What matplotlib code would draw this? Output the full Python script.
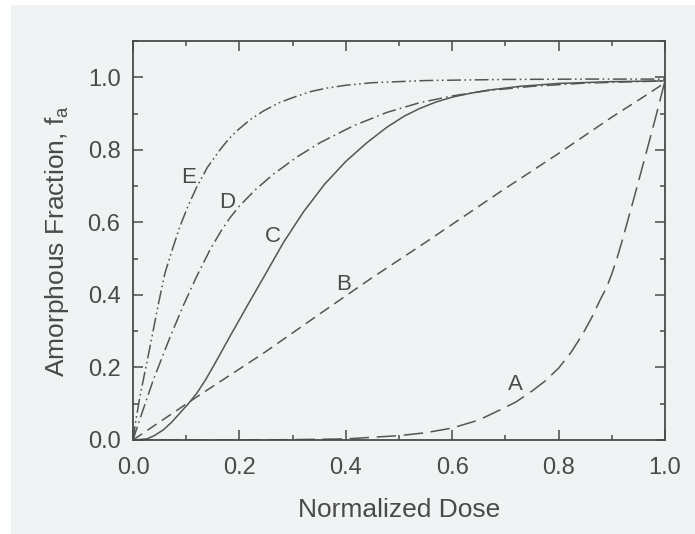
import matplotlib
matplotlib.use("Agg")
import matplotlib.pyplot as plt
from matplotlib.patches import Rectangle
from matplotlib.ticker import MultipleLocator

# values
dose_a = [0.0, 0.1, 0.2, 0.3, 0.4, 0.5, 0.55, 0.6, 0.65, 0.69, 0.72, 0.75, 0.775,
          0.8, 0.825, 0.846, 0.862, 0.878, 0.89, 0.9, 0.91, 0.92, 0.94, 0.96,
          0.98, 1.0]
frac_a = [0.0, 0.0, 0.0, 0.001, 0.003, 0.012, 0.02, 0.033, 0.055, 0.083, 0.105,
          0.135, 0.163, 0.198, 0.245, 0.294, 0.337, 0.386, 0.42, 0.458, 0.502,
          0.552, 0.658, 0.766, 0.876, 0.99]

dose_b = [0.0, 0.12, 0.245, 0.37, 0.445, 0.55, 0.69, 0.8, 0.9, 0.966, 1.0]
frac_b = [0.0, 0.119, 0.239, 0.367, 0.443, 0.545, 0.684, 0.79, 0.89, 0.952, 0.985]

dose_c = [0.0, 0.026, 0.04, 0.057, 0.072, 0.088, 0.104, 0.12, 0.136, 0.151, 0.182,
          0.214, 0.25, 0.283, 0.32, 0.36, 0.4, 0.44, 0.477, 0.51, 0.539, 0.57,
          0.602, 0.635, 0.665, 0.727, 0.8, 0.9, 1.0]
frac_c = [0.0, 0.003, 0.012, 0.028, 0.048, 0.074, 0.1, 0.129, 0.165, 0.203, 0.285,
          0.368, 0.46, 0.545, 0.628, 0.705, 0.768, 0.82, 0.862, 0.893, 0.914, 0.932,
          0.946, 0.956, 0.964, 0.975, 0.983, 0.988, 0.99]

dose_d = [0.0, 0.01, 0.038, 0.07, 0.095, 0.12, 0.145, 0.165, 0.182, 0.2, 0.23,
          0.264, 0.308, 0.352, 0.414, 0.477, 0.539, 0.602, 0.665, 0.75, 0.85, 1.0]
frac_d = [0.0, 0.045, 0.165, 0.285, 0.372, 0.452, 0.525, 0.575, 0.612, 0.645, 0.69,
          0.733, 0.78, 0.82, 0.866, 0.903, 0.93, 0.949, 0.963, 0.975, 0.984, 0.99]

dose_e = [0.0, 0.005, 0.013, 0.032, 0.048, 0.06, 0.075, 0.088, 0.104, 0.12, 0.14,
          0.163, 0.18, 0.195, 0.22, 0.245, 0.275, 0.308, 0.335, 0.364, 0.4, 0.45,
          0.55, 0.7, 0.85, 1.0]
frac_e = [0.0, 0.05, 0.12, 0.257, 0.377, 0.46, 0.53, 0.588, 0.647, 0.698, 0.752,
          0.799, 0.83, 0.852, 0.883, 0.907, 0.93, 0.948, 0.961, 0.97, 0.978, 0.985,
          0.991, 0.994, 0.995, 0.995]

curve_names = ["A", "B", "C", "D", "E"]
label_pos = [(0.718, 0.152), (0.395, 0.43), (0.263, 0.56), (0.177, 0.656), (0.105, 0.725)]

plt.rcParams["font.family"] = ["Liberation Sans", "DejaVu Sans"]
plt.rcParams["lines.scale_dashes"] = False

INK = "#4a4a4a"
LINE = "#555555"
BG = "#f0f3f3"

fig = plt.figure(figsize=(6.95, 5.34), dpi=100)
fig.patch.set_facecolor("white")
fig.patches.append(Rectangle((11 / 695, 0), 1 - 11 / 695, 1 - 5 / 534,
                             transform=fig.transFigure, facecolor=BG,
                             edgecolor="none", zorder=-10))

ax = fig.add_axes([133 / 695, 94 / 534, 532 / 695, 399 / 534])
ax.set_facecolor(BG)

ax.plot(dose_a, frac_a, color=LINE, lw=1.1, dashes=(14, 5.5))
ax.plot(dose_b, frac_b, color=LINE, lw=1.1, dashes=(8, 4.5))
ax.plot(dose_c, frac_c, color=LINE, lw=1.1)
ax.plot(dose_d, frac_d, color=LINE, lw=1.1, dashes=(10, 3, 1.2, 3))
ax.plot(dose_e, frac_e, color=LINE, lw=1.1, dashes=(10, 2.5, 1.2, 2.5, 1.2, 2.5))

for name, (x, y) in zip(curve_names, label_pos):
    ax.text(x, y, name, fontsize=16, color=INK, ha="center", va="center")

ax.set_xlim(0, 1.0)
ax.set_ylim(0, 1.1)
ax.xaxis.set_major_locator(MultipleLocator(0.2))
ax.xaxis.set_minor_locator(MultipleLocator(0.1))
ax.yaxis.set_minor_locator(MultipleLocator(0.1))
ax.set_yticks([0, 0.2, 0.4, 0.6, 0.8, 1.0])
ax.xaxis.set_major_formatter(plt.FormatStrFormatter("%.1f"))
ax.yaxis.set_major_formatter(plt.FormatStrFormatter("%.1f"))

ax.tick_params(which="both", direction="in", top=True, right=True,
               colors=INK, labelsize=17, width=1.1)
ax.tick_params(which="major", length=7)
ax.tick_params(axis="x", which="major", pad=12)
ax.tick_params(axis="y", which="major", pad=9)
ax.tick_params(which="minor", length=3.5)
for sp in ax.spines.values():
    sp.set_color(INK)
    sp.set_linewidth(1.3)

ax.set_xlabel("Normalized Dose", fontsize=19, color=INK, labelpad=14)
ax.set_ylabel(r"Amorphous Fraction, f$_\mathregular{a}$", fontsize=19,
              color=INK, labelpad=12)

fig.savefig("out.png", dpi=100, facecolor=fig.get_facecolor())
